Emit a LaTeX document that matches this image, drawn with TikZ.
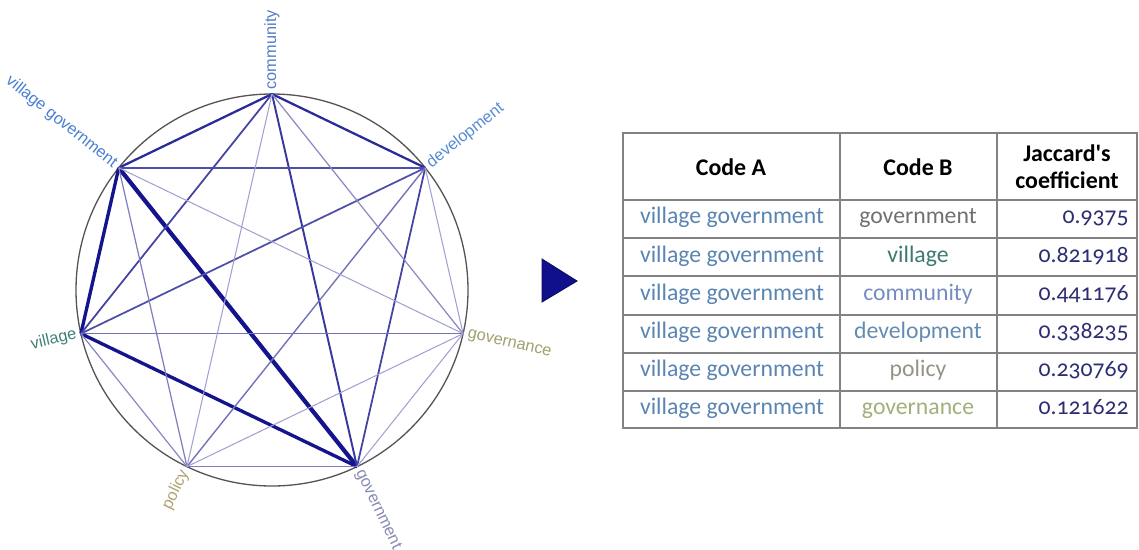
\documentclass[tikz,border=0pt]{standalone}
\usepackage{fontspec}
\setmainfont{Liberation Sans}
\newfontfamily\tablefont[Numbers=OldStyle]{Carlito}

\definecolor{edgeblue}{RGB}{20,20,140}
\definecolor{ringgray}{RGB}{85,85,85}
\definecolor{gridgray}{RGB}{130,130,130}
\definecolor{arrownavy}{RGB}{16,16,140}
\definecolor{numnavy}{RGB}{45,45,115}
% label colours of the codes
\definecolor{commcol}{RGB}{85,125,200}
\definecolor{devcol}{RGB}{85,140,210}
\definecolor{govncol}{RGB}{160,160,112}
\definecolor{govtcol}{RGB}{135,138,178}
\definecolor{polcol}{RGB}{178,162,112}
\definecolor{vilcol}{RGB}{62,130,122}
\definecolor{vgovcol}{RGB}{72,128,210}
% the same codes inside the table
\definecolor{codeacol}{RGB}{90,132,178}
\definecolor{tgovtcol}{RGB}{112,112,116}
\definecolor{tvilcol}{RGB}{60,122,112}
\definecolor{tcommcol}{RGB}{118,140,192}
\definecolor{tdevcol}{RGB}{98,140,178}
\definecolor{tpolcol}{RGB}{150,146,136}
\definecolor{tgovncol}{RGB}{160,176,122}

\tikzset{
  codelabel/.style={inner sep=2.5pt, font=\fontsize{9.3}{11}\selectfont},
  gridline/.style={gridgray, line width=0.8pt},
  head/.style={font=\tablefont\bfseries\fontsize{13.6}{15.5}\selectfont, align=center},
  cell/.style={font=\tablefont\fontsize{13.5}{15}\selectfont, text height=1.55ex, text depth=0.5ex, inner sep=0pt},
}

\begin{document}
\begin{tikzpicture}[x=0.02cm, y=0.02cm]
\useasboundingbox (0,0) rectangle (1139,-549);

\draw[ringgray, line width=0.75pt] (272,-290) circle (196);

\begin{scope}[shift={(272,-290)}]
\foreach \name/\ang in {comm/90, dev/38.57, govn/-12.86, govt/-64.29, pol/-115.71, vil/-167.14, vgov/141.43}
    \coordinate (\name) at (\ang:196);
\end{scope}

\foreach \a/\b/\lw/\op in {
    vgov/govt/2.4/100, vgov/vil/1.9/100, vil/govt/1.9/100,
    vgov/comm/1.3/90, comm/dev/1.3/90, comm/govt/1.1/85,
    vgov/dev/0.9/75, comm/vil/1.0/80, dev/vil/1.0/75, dev/govt/1.0/80,
    dev/pol/0.8/60, comm/govn/0.7/50, govn/vil/0.8/60, govt/pol/0.8/55,
    vgov/pol/0.7/55, vil/pol/0.7/50,
    vgov/govn/0.6/40, comm/pol/0.6/40, dev/govn/0.6/40, govn/govt/0.6/40, govn/pol/0.6/40}
    \draw[edgeblue!\op, line width=\lw pt] (\a) -- (\b);

\node[codelabel, text=commcol, anchor=west, rotate=90]     (comm-label) at (comm) {community};
\node[codelabel, text=devcol,  anchor=west, rotate=38.57]  (dev-label)  at (dev)  {development};
\node[codelabel, text=govncol, anchor=west, rotate=-12.86] (govn-label) at (govn) {governance};
\node[codelabel, text=govtcol, anchor=west, rotate=-64.29] (govt-label) at (govt) {government};
\node[codelabel, text=polcol,  anchor=east, rotate=64.29]  (pol-label)  at (pol)  {policy};
\node[codelabel, text=vilcol,  anchor=east, rotate=12.86]  (vil-label)  at (vil)  {village};
\node[codelabel, text=vgovcol, anchor=east, rotate=-38.57] (vgov-label) at (vgov) {village government};

\draw[arrownavy!70!black, fill=arrownavy, line width=0.5pt] (542,-259) -- (577,-281) -- (542,-302) -- cycle;

% table of coefficients
\draw[gridline] (623,-133) rectangle (1137,-428);
\foreach \y in {200, 238, 276, 315, 353, 391}
    \draw[gridline] (623,-\y) -- (1137,-\y);
\draw[gridline] (840,-133) -- (840,-428);
\draw[gridline] (997,-133) -- (997,-428);

\node[head] (codeA) at (731,-167) {Code A};
\node[head] (codeB) at (918,-167) {Code B};
\node[head] (jaccard) at (1067,-167) {Jaccard's\\coefficient};

\foreach[count=\i, evaluate=\i as \y using -219-38.2*(\i-1)] \other/\col/\val in {
    government/tgovtcol/0.9375, village/tvilcol/0.821918, community/tcommcol/0.441176,
    development/tdevcol/0.338235, policy/tpolcol/0.230769, governance/tgovncol/0.121622}
{
    \node[cell, text=codeacol] (a\i) at (732,\y) {village government};
    \node[cell, text=\col] (b\i) at (918,\y) {\other};
    \node[cell, text=numnavy, anchor=east] (c\i) at (1129,\y) {\val};
}

\end{tikzpicture}
\end{document}
